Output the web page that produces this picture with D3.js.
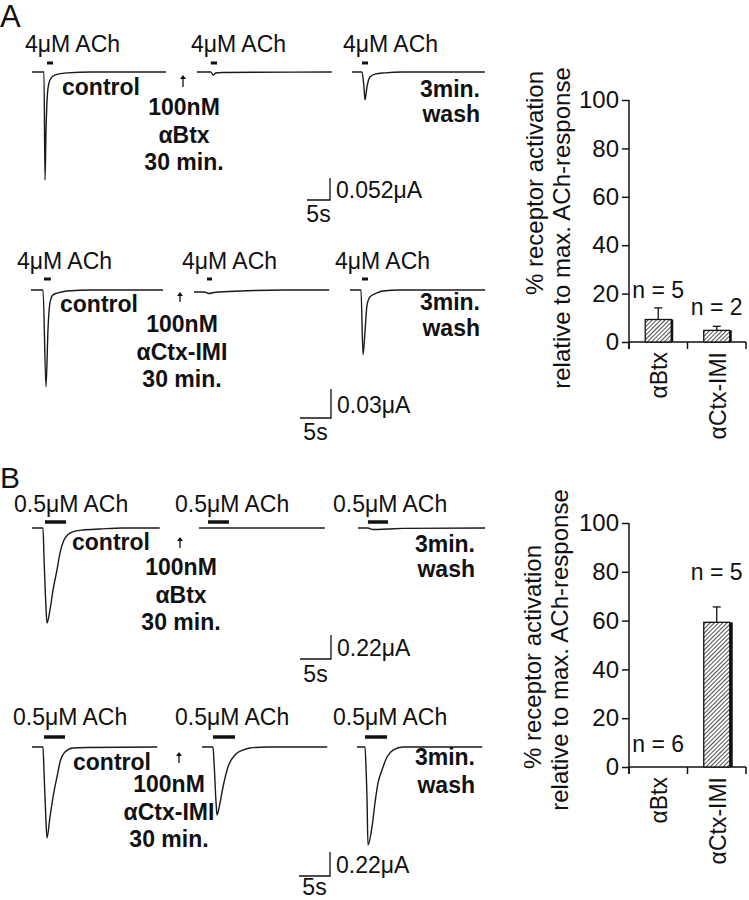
<!DOCTYPE html>
<html><head><meta charset="utf-8">
<script src="https://cdn.jsdelivr.net/npm/d3@7"></script>
<style>body{margin:0;background:#fff} text{font-family:Arial,"Liberation Sans",sans-serif;fill:#111}</style>
</head><body><svg id="c" width="749" height="900"></svg>
<script>
// ---------- DATA ----------
// Recorded traces: time (s from trace start), current (µA, inward negative)
const tA1ctrl = [0, 2.6, 2.83, 3.04, 3.26, 3.48, 3.9, 5.0, 7.6, 13, 29.1];
const iA1ctrl = [0, 0, -0.255, -0.142, -0.071, -0.038, -0.019, -0.007, -0.002, 0, 0];
const tA1btx  = [0, 3.0, 3.5, 4.1, 5.4, 29.3];
const iA1btx  = [0, 0, -0.007, -0.0024, -0.0012, 0];
const tA1wash = [0, 2.17, 2.6, 2.83, 3.26, 3.9, 5.0, 7.2, 10.9, 28.9];
const iA1wash = [0, 0, -0.035, -0.066, -0.035, -0.012, -0.005, -0.002, 0, 0];

const tA2ctrl = [0, 1.94, 2.42, 2.74, 3.06, 3.55, 4.35, 5.8, 9.7, 21.3];
const iA2ctrl = [0, 0, -0.100, -0.041, -0.013, -0.005, -0.003, -0.001, 0, 0];
const tA2imi  = [0, 1.6, 2.4, 3.2, 5.6, 9.7, 14.5, 21.8];
const iA2imi  = [-0.002, -0.002, -0.0036, -0.0026, -0.0016, -0.0005, 0, 0];
const tA2wash = [0, 1.77, 2.1, 2.42, 2.74, 3.23, 4.35, 5.3, 8.1, 21.8];
const iA2wash = [0, 0, -0.067, -0.043, -0.016, -0.007, -0.003, -0.001, 0, 0];

const tB1ctrl = [0, 1.77, 1.94, 2.26, 2.42, 2.9, 3.39, 4.03, 4.52, 5.32, 6.45, 8.23, 11.0, 14.5, 20.6];
const iB1ctrl = [0, 0, -0.275, -0.734, -0.872, -0.752, -0.569, -0.385, -0.229, -0.092, -0.037, -0.018, -0.009, 0, 0];
const tB1btx  = [0, 20.3];
const iB1btx  = [0, 0];
const tB1wash = [0, 1.6, 2.4, 4.8, 7.3, 20.5];
const iB1wash = [0, 0, -0.014, -0.009, -0.003, 0];

const tB2ctrl = [0, 1.77, 1.94, 2.26, 2.42, 2.9, 3.39, 4.03, 4.52, 5.32, 6.61, 8.87, 20.2];
const iB2ctrl = [0, 0, -0.229, -0.688, -0.835, -0.642, -0.459, -0.275, -0.138, -0.046, -0.009, -0.005, 0];
const tB2imi  = [0, 1.77, 1.94, 2.26, 2.42, 2.9, 3.39, 4.19, 5.32, 6.61, 7.74, 10.5, 20.2];
const iB2imi  = [0, 0, -0.138, -0.505, -0.624, -0.514, -0.367, -0.183, -0.073, -0.028, -0.009, 0, 0];
const tB2wash = [0, 1.29, 1.45, 1.61, 1.77, 2.42, 2.9, 3.39, 4.03, 4.84, 5.81, 7.42, 20.2];
const iB2wash = [0, 0, -0.183, -0.459, -0.899, -0.734, -0.514, -0.330, -0.211, -0.092, -0.028, 0, 0];

// ACh application periods (s from trace start)
const stimA1 = [[3.26, 4.57], [3.0, 4.35], [2.17, 3.48]];
const stimA2 = [[2.1, 3.2], [2.1, 2.9], [1.94, 2.9]];
const stimB1 = [[2.1, 5.5], [1.45, 4.84], [1.6, 4.84]];
const stimB2 = [[1.94, 5.32], [1.77, 5.32], [1.29, 4.84]];

const concA = "4μM ACh";
const concB = "0.5μM ACh";
const drugBtx = ["100nM", "αBtx", "30 min."];
const drugImi = ["100nM", "αCtx-IMI", "30 min."];
const washLines = ["3min.", "wash"];
const scaleValA1 = 0.052, scaleValA2 = 0.03, scaleValB1 = 0.22, scaleValB2 = 0.22;
const scaleTime = 5;

// Bar charts
const barCategories = ["αBtx", "αCtx-IMI"];
const barMeanA = [9.3, 4.8];
const barErrA  = [4.8, 1.7];
const barNA    = [5, 2];
const barMeanB = [0, 59.3];
const barErrB  = [0, 6.3];
const barNB    = [6, 5];
const yTicks = [0, 20, 40, 60, 80, 100];
const yTitle = ["% receptor activation", "relative to max. ACh-response"];

// ---------- LAYOUT ----------
const svg = d3.select("#c");
const FS = 23;

svg.append("text").attr("x", 0).attr("y", 27).attr("font-size", 31).text("A");
svg.append("text").attr("x", 0).attr("y", 488).attr("font-size", 30).text("B");

const rows = [
  {base:72, pxS:4.6, pxUA:423, x0:[32,197,352], stimY:63, stimW:3,
   data:[[tA1ctrl,iA1ctrl],[tA1btx,iA1btx],[tA1wash,iA1wash]], stim:stimA1,
   conc:concA, concX:[25,191,343], concY:52, ctrl:[62,95], arrow:[183,87,75],
   drug:drugBtx, drugX:184, drugY:[115,143,170], washX:480, washY:[97,122],
   sb:{x:330, y:200, v:scaleValA1, ty:198, sy:222}},
  {base:290, pxS:6.2, pxUA:967, x0:[31,194,350], stimY:279, stimW:3,
   data:[[tA2ctrl,iA2ctrl],[tA2imi,iA2imi],[tA2wash,iA2wash]], stim:stimA2,
   conc:concA, concX:[17,182,335], concY:269, ctrl:[60,312], arrow:[180,302,292],
   drug:drugImi, drugX:182, drugY:[332,360,387], washX:480, washY:[310,336],
   sb:{x:331, y:418, v:scaleValA2, ty:413, sy:440}},
  {base:528, pxS:6.2, pxUA:109, x0:[32,199,358], stimY:522, stimW:3.5,
   data:[[tB1ctrl,iB1ctrl],[tB1btx,iB1btx],[tB1wash,iB1wash]], stim:stimB1,
   conc:concB, concX:[14,175,333], concY:512, ctrl:[72,550], arrow:[180,548,537],
   drug:drugBtx, drugX:181, drugY:[575,603,630], washX:475, washY:[552,577],
   sb:{x:331, y:659, v:scaleValB1, ty:656, sy:682}},
  {base:747, pxS:6.2, pxUA:109, x0:[32,202,357], stimY:737, stimW:3.5,
   data:[[tB2ctrl,iB2ctrl],[tB2imi,iB2imi],[tB2wash,iB2wash]], stim:stimB2,
   conc:concB, concX:[13,175,333], concY:725, ctrl:[73,770], arrow:[179,763,752],
   drug:drugImi, drugX:169, drugY:[792,820,847], washX:475, washY:[765,793],
   sb:{x:330, y:876, v:scaleValB2, ty:873, sy:895}}
];

rows.forEach(r => {
  const g = svg.append("g");
  r.data.forEach(([t, I], k) => {
    const x = d3.scaleLinear().domain([0, 1]).range([r.x0[k], r.x0[k] + r.pxS]);
    const y = d3.scaleLinear().domain([0, -1]).range([r.base, r.base + r.pxUA]);
    const pts = t.map((tv, j) => [tv, I[j]]);
    g.append("path")
      .attr("d", d3.line().x(d => x(d[0])).y(d => y(d[1])).curve(d3.curveMonotoneX)(pts))
      .attr("fill", "none").attr("stroke", "#1a1a1a").attr("stroke-width", 1.4);
    const s = r.stim[k];
    g.append("line").attr("x1", x(s[0])).attr("x2", x(s[1]))
      .attr("y1", r.stimY).attr("y2", r.stimY)
      .attr("stroke", "#111").attr("stroke-width", r.stimW);
    g.append("text").attr("x", r.concX[k]).attr("y", r.concY).attr("font-size", FS).text(r.conc);
  });
  g.append("text").attr("x", r.ctrl[0]).attr("y", r.ctrl[1]).attr("font-size", FS)
    .attr("font-weight", "bold").text("control");
  // arrow
  const [ax, ay1, ay2] = r.arrow;
  g.append("line").attr("x1", ax).attr("x2", ax).attr("y1", ay1).attr("y2", ay2 + 3)
    .attr("stroke", "#111").attr("stroke-width", 1.3);
  g.append("path").attr("d", `M${ax-3},${ay2+4} L${ax},${ay2} L${ax+3},${ay2+4} Z`).attr("fill", "#111");
  r.drug.forEach((s, j) => g.append("text").attr("x", r.drugX).attr("y", r.drugY[j])
    .attr("font-size", FS).attr("font-weight", "bold").attr("text-anchor", "middle").text(s));
  washLines.forEach((s, j) => g.append("text").attr("x", r.washX).attr("y", r.washY[j])
    .attr("font-size", FS).attr("font-weight", "bold").attr("text-anchor", "end").text(s));
  // scale bar
  const hx = scaleTime * r.pxS, vy = r.sb.v * r.pxUA;
  g.append("path").attr("d", `M${r.sb.x - hx},${r.sb.y} H${r.sb.x} V${r.sb.y - vy}`)
    .attr("fill", "none").attr("stroke", "#111").attr("stroke-width", 1.3);
  g.append("text").attr("x", r.sb.x + 6).attr("y", r.sb.ty).attr("font-size", FS).text(r.sb.v + "μA");
  g.append("text").attr("x", r.sb.x - hx / 2).attr("y", r.sb.sy).attr("font-size", FS)
    .attr("text-anchor", "middle").text(scaleTime + "s");
});

// hatch pattern
const defs = svg.append("defs");
const pat = defs.append("pattern").attr("id", "hatch").attr("patternUnits", "userSpaceOnUse")
  .attr("width", 3).attr("height", 3).attr("patternTransform", "rotate(45)");
pat.append("rect").attr("width", 3).attr("height", 3).attr("fill", "#fff");
pat.append("line").attr("x1", 0).attr("y1", 0).attr("x2", 0).attr("y2", 3)
  .attr("stroke", "#222").attr("stroke-width", 1.6);

function barChart(cfg) {
  const g = svg.append("g");
  const y = d3.scaleLinear().domain([0, 100]).range([cfg.y0, cfg.y100]);
  const x = d3.scaleBand().domain(barCategories).range([cfg.x0, cfg.x1]);
  // y axis
  const ya = g.append("g").attr("transform", `translate(${cfg.x0},0)`)
    .call(d3.axisLeft(y).tickValues(yTicks).tickSize(7).tickPadding(3));
  ya.select(".domain").remove();
  ya.selectAll("line").attr("stroke", "#111").attr("stroke-width", 1.5);
  ya.selectAll("text").attr("font-size", 24).attr("font-family", "Arial, 'Liberation Sans', sans-serif").attr("fill", "#111");
  g.append("line").attr("x1", cfg.x0).attr("x2", cfg.x0).attr("y1", cfg.y100).attr("y2", cfg.y0 + 7)
    .attr("stroke", "#111").attr("stroke-width", 1.5);
  g.append("line").attr("x1", cfg.x0).attr("x2", cfg.x1).attr("y1", cfg.y0).attr("y2", cfg.y0)
    .attr("stroke", "#111").attr("stroke-width", 1.5);
  [cfg.x0].concat(barCategories.map(c => x(c) + x.bandwidth())).forEach(v =>
    g.append("line").attr("x1", v).attr("x2", v).attr("y1", cfg.y0).attr("y2", cfg.y0 + 7)
      .attr("stroke", "#111").attr("stroke-width", 1.5));
  barCategories.forEach((c, i) => {
    const cx = x(c) + x.bandwidth() / 2;
    const m = cfg.mean[i], e = cfg.err[i];
    if (m > 0) {
      const bw = 26;
      g.append("rect").attr("x", cx - bw / 2 + cfg.shadow).attr("y", y(m)).attr("width", bw)
        .attr("height", y(0) - y(m)).attr("fill", "#111");
      g.append("rect").attr("x", cx - bw / 2).attr("y", y(m)).attr("width", bw)
        .attr("height", y(0) - y(m)).attr("fill", "url(#hatch)").attr("stroke", "#111").attr("stroke-width", 1.3);
      g.append("line").attr("x1", cx).attr("x2", cx).attr("y1", y(m)).attr("y2", y(m + e))
        .attr("stroke", "#111").attr("stroke-width", 1.3);
      g.append("line").attr("x1", cx - 4).attr("x2", cx + 4).attr("y1", y(m + e)).attr("y2", y(m + e))
        .attr("stroke", "#111").attr("stroke-width", 1.3);
    }
    g.append("text").attr("x", cx).attr("y", y(m + e) - cfg.nGap[i]).attr("font-size", FS)
      .attr("text-anchor", "middle").text("n = " + cfg.n[i]);
    g.append("text").attr("transform", `translate(${cx + 1},${cfg.y0 + 10}) rotate(-90)`)
      .attr("dy", "0.35em").attr("text-anchor", "end").attr("font-size", FS).text(c);
  });
  yTitle.forEach((s, j) => {
    g.append("text").attr("transform", `translate(${cfg.titleX[j]},${cfg.titleY[j]}) rotate(-90)`)
      .attr("dy", "0.35em").attr("text-anchor", "middle").attr("font-size", 24).text(s);
  });
}

barChart({x0:629, x1:746, y0:342, y100:100, mean:barMeanA, err:barErrA, n:barNA,
  nGap:[10, 11], shadow:2, titleX:[535, 562], titleY:[183, 228]});
barChart({x0:629, x1:746, y0:767, y100:523, mean:barMeanB, err:barErrB, n:barNB,
  nGap:[15, 27], shadow:3, titleX:[533, 560], titleY:[657, 650]});
</script></body></html>
